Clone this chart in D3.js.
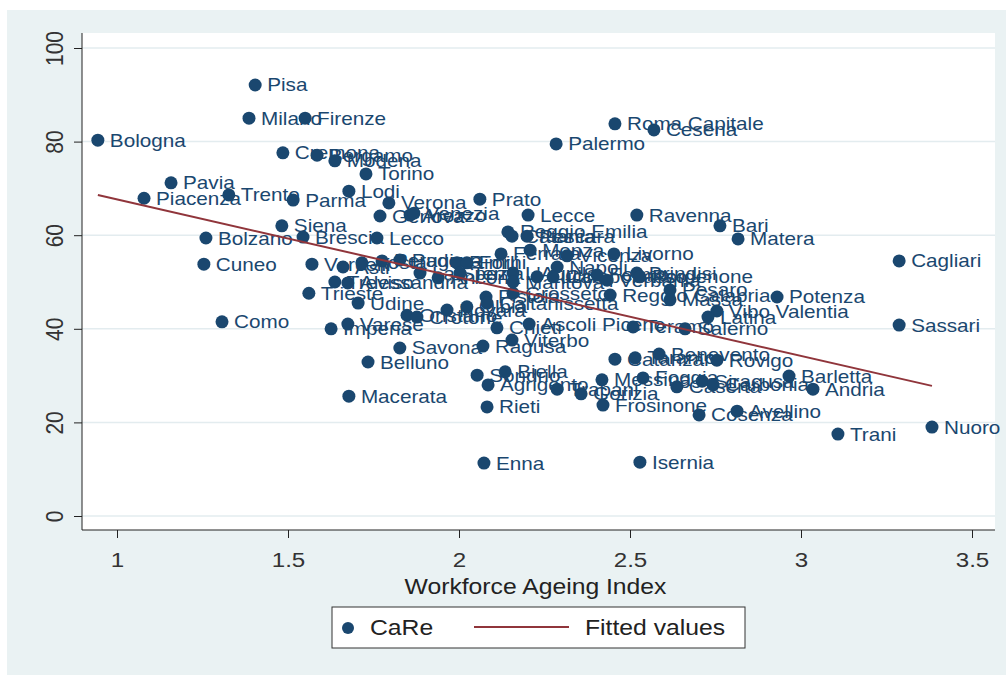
<!DOCTYPE html>
<html>
<head>
<meta charset="utf-8">
<script src="https://cdn.jsdelivr.net/npm/d3@7"></script>
<style>
  html, body { margin: 0; padding: 0; background: #ffffff; }
  svg { display: block; font-family: "Liberation Sans", Arial, sans-serif; }
</style>
</head>
<body>
<div id="chart"></div>
<script>
// province names, Workforce Ageing Index (x) and CaRe score (y)
const provinces = [
  "Bologna","Pisa","Milano","Firenze","Cremona","Bergamo","Modena","Torino","Lodi","Pavia",
  "Piacenza","Trento","Parma","Verona","Genova","Arezzo","Venezia","Siena","Brescia","Lecco",
  "Bolzano","Cuneo","Como","Vercelli","Asti","Aosta","Perugia","Padova","Rimini","Forli",
  "Treviso","Alessandria","La Spezia","Ancona","Terni","Trieste","Udine","Oristano","Crotone","Novara",
  "Olbia","Varese","Imperia","Savona","Belluno","Macerata","Prato","Lecce","Ravenna","Palermo",
  "Roma Capitale","Cesena","Reggio Emilia","Catania","Pescara","Ferrara","Monza","Vicenza","Livorno","Napoli",
  "L'Aquila","Mantova","Lucca","Campobasso","Fermo","Verbania","Brindisi","Pordenone","Pesaro","Massa",
  "Pistoia","Caltanissetta","Grosseto","Reggio Calabria","Chieti","Ascoli Piceno","Teramo","Viterbo","Ragusa","Matera",
  "Bari","Cagliari","Potenza","Vibo Valentia","Latina","Salerno","Sassari","Sondrio","Biella","Agrigento",
  "Trapani","Gorizia","Messina","Frosinone","Rieti","Enna","Catanzaro","Taranto","Benevento","Rovigo",
  "Foggia","Caserta","Siracusa","Carbonia","Barletta","Andria","Cosenza","Avellino","Trani","Nuoro",
  "Isernia"
];
const ageingIndex = [
  0.944,1.404,1.386,1.550,1.485,1.585,1.637,1.728,1.678,1.158,
  1.079,1.327,1.515,1.795,1.769,1.857,1.868,1.482,1.544,1.760,
  1.260,1.254,1.307,1.570,1.661,1.716,1.775,1.827,1.994,2.023,
  1.637,1.675,1.886,1.939,2.003,1.561,1.705,1.848,1.877,1.965,
  2.023,1.675,1.626,1.827,1.734,1.678,2.061,2.202,2.520,2.284,
  2.456,2.570,2.143,2.155,2.199,2.123,2.208,2.316,2.453,2.287,
  2.158,2.158,2.228,2.275,2.404,2.433,2.520,2.529,2.617,2.617,
  2.079,2.082,2.158,2.442,2.111,2.205,2.509,2.155,2.070,2.816,
  2.763,3.287,2.930,2.754,2.728,2.661,3.287,2.053,2.135,2.085,
  2.287,2.357,2.418,2.421,2.082,2.073,2.456,2.515,2.585,2.754,
  2.538,2.637,2.711,2.743,2.965,3.035,2.702,2.813,3.108,3.383,
  2.529
];
const careScore = [
  80.3,92.1,85.0,85.0,77.6,77.1,75.9,73.1,69.4,71.2,
  67.9,68.6,67.5,66.9,64.1,64.3,64.7,62.0,59.6,59.4,
  59.4,53.8,41.5,53.8,53.2,54.1,54.5,54.7,54.1,54.1,
  50.0,49.8,51.9,50.9,51.9,47.6,45.5,42.9,42.5,44.0,
  44.7,41.0,40.0,35.9,32.9,25.6,67.7,64.3,64.3,79.5,
  83.8,82.5,60.7,59.8,59.8,56.0,56.8,55.6,56.0,53.2,
  51.9,50.0,51.1,51.1,51.5,50.4,51.9,51.1,48.3,46.2,
  46.8,45.5,47.6,47.2,40.2,41.0,40.4,37.6,36.3,59.2,
  62.0,54.5,46.8,43.8,42.5,40.0,40.8,30.1,30.8,28.0,
  27.1,26.1,29.1,23.7,23.3,11.3,33.5,33.8,34.6,33.3,
  29.5,27.6,28.8,28.0,29.9,27.1,21.6,22.4,17.5,19.0,
  11.5
];
// fitted values line (end points)
const fitX = [0.944, 3.383];
const fitY = [68.6, 27.8];

const xTicks = [1, 1.5, 2, 2.5, 3, 3.5];
const yTicks = [0, 20, 40, 60, 80, 100];
const xTitle = "Workforce Ageing Index";
const legendItems = ["CaRe", "Fitted values"];

const W = 1006, H = 675;
const navy = "#1a476f", maroon = "#90353b";
const sx = 1.15; // the reference is a bit stretched sideways

const svg = d3.select("#chart").append("svg")
  .attr("width", W).attr("height", H);

// outer background
svg.append("rect").attr("x", 7).attr("y", 10).attr("width", W - 7).attr("height", H - 10)
  .attr("fill", "#eaf2f3");

const plot = {left: 82, right: 995, top: 33, bottom: 530};
svg.append("rect")
  .attr("x", plot.left).attr("y", plot.top)
  .attr("width", plot.right - plot.left).attr("height", plot.bottom - plot.top)
  .attr("fill", "#ffffff");

const x = d3.scaleLinear().domain([1, 3.5]).range([117, 972]);
const y = d3.scaleLinear().domain([0, 100]).range([516, 48]);

// gridlines
svg.append("g").selectAll("line")
  .data(yTicks).enter().append("line")
  .attr("x1", plot.left).attr("x2", plot.right)
  .attr("y1", d => y(d)).attr("y2", d => y(d))
  .attr("stroke", "#e3ecef").attr("stroke-width", 1.5);

// y axis
const yAxis = svg.append("g")
  .attr("transform", `translate(${plot.left},0)`)
  .call(d3.axisLeft(y).tickValues(yTicks).tickSize(8).tickFormat(d3.format("d")));
yAxis.select(".domain").attr("d", `M0,${plot.top}V${plot.bottom}`).attr("stroke", "#222");
yAxis.selectAll(".tick line").attr("stroke", "#222");
yAxis.selectAll(".tick text")
  .attr("x", null).attr("dy", null)
  .attr("text-anchor", "middle")
  .attr("transform", `translate(-19,0) scale(${sx},1) rotate(-90)`)
  .style("font-size", "21px").attr("fill", "#333");

// x axis
const xAxis = svg.append("g")
  .attr("transform", `translate(0,${plot.bottom})`)
  .call(d3.axisBottom(x).tickValues(xTicks).tickSize(8).tickFormat(d3.format("")));
xAxis.select(".domain").attr("d", `M${plot.left},0H${plot.right}`).attr("stroke", "#222");
xAxis.selectAll(".tick line").attr("stroke", "#222");
xAxis.selectAll(".tick text")
  .attr("y", null).attr("dy", null)
  .attr("transform", `translate(0,37) scale(${sx},1)`)
  .style("font-size", "21px").attr("fill", "#333");

svg.append("text")
  .attr("transform", `translate(${(plot.left + plot.right) / 2 - 3},594) scale(${sx},1)`)
  .attr("text-anchor", "middle")
  .style("font-size", "21.5px").attr("fill", "#222")
  .text(xTitle);

// scatter: labels, then markers
const pts = provinces.map((p, i) => ({name: p, wai: ageingIndex[i], care: careScore[i]}));

const g = svg.append("g");
pts.forEach(d => {
  g.append("text")
    .attr("transform", `translate(${x(d.wai) + 12},${y(d.care) + 6.5}) scale(${sx},1)`)
    .style("font-size", "18px").attr("fill", navy)
    .text(d.name);
  g.append("circle")
    .attr("cx", x(d.wai)).attr("cy", y(d.care)).attr("r", 6.5)
    .attr("fill", navy);
});

// fitted line
svg.append("path")
  .datum(fitX.map((v, i) => [v, fitY[i]]))
  .attr("d", d3.line().x(d => x(d[0])).y(d => y(d[1])))
  .attr("fill", "none").attr("stroke", maroon).attr("stroke-width", 2);

// legend
const lg = svg.append("g");
lg.append("rect").attr("x", 332).attr("y", 607).attr("width", 413).attr("height", 41)
  .attr("fill", "#ffffff").attr("stroke", "#333").attr("stroke-width", 1);
lg.append("circle").attr("cx", 348).attr("cy", 628).attr("r", 6).attr("fill", navy);
lg.append("text")
  .attr("transform", `translate(370,635) scale(${sx},1)`)
  .style("font-size", "21.5px").attr("fill", "#222").text(legendItems[0]);
lg.append("line").attr("x1", 474).attr("x2", 569).attr("y1", 627).attr("y2", 627)
  .attr("stroke", maroon).attr("stroke-width", 2);
lg.append("text")
  .attr("transform", `translate(585,635) scale(${sx},1)`)
  .style("font-size", "21.5px").attr("fill", "#222").text(legendItems[1]);
</script>
</body>
</html>
